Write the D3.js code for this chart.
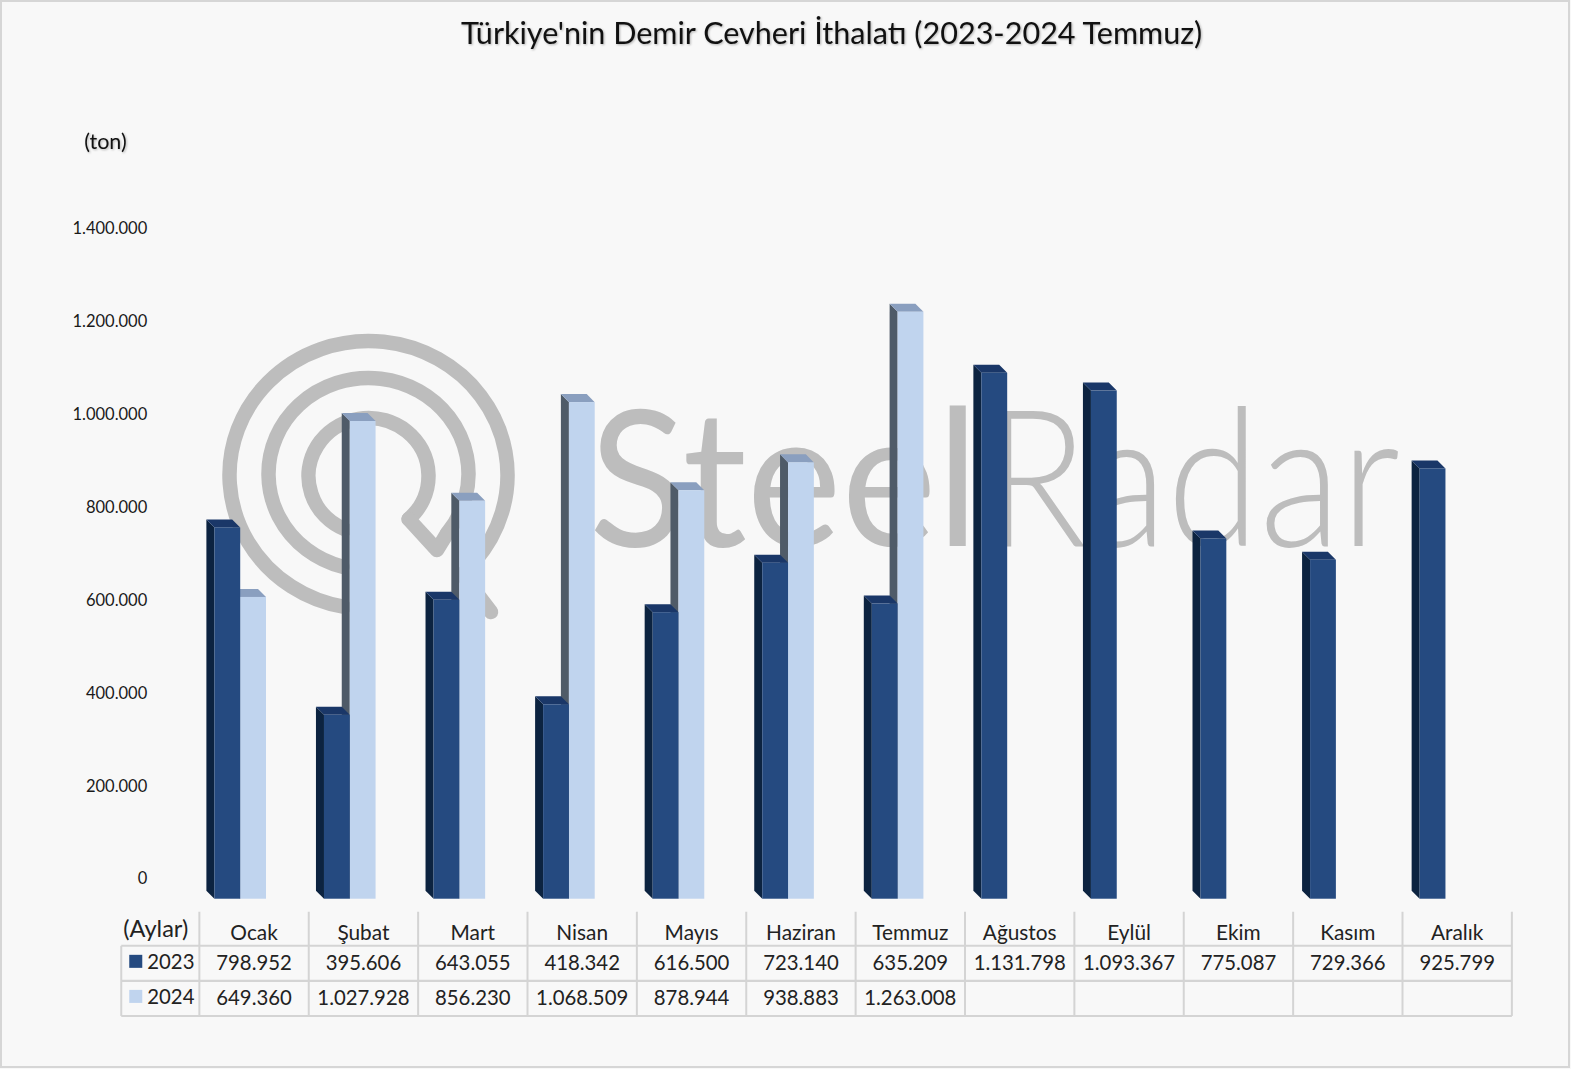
<!DOCTYPE html>
<html lang="tr">
<head>
<meta charset="utf-8">
<title>Türkiye'nin Demir Cevheri İthalatı</title>
<script src="https://cdn.jsdelivr.net/npm/d3@7/dist/d3.min.js"></script>
<style>
html,body{margin:0;padding:0;background:#f8f8f8;}
svg{display:block;font-family:Lato,Carlito,"Open Sans",sans-serif;}
</style>
</head>
<body>
<svg id="c" width="1571" height="1069"></svg>
<script>
const months = ["Ocak","Şubat","Mart","Nisan","Mayıs","Haziran","Temmuz","Ağustos","Eylül","Ekim","Kasım","Aralık"];
const values2023 = [798952,395606,643055,418342,616500,723140,635209,1131798,1093367,775087,729366,925799];
const values2024 = [649360,1027928,856230,1068509,878944,938883,1263008,null,null,null,null,null];
const years = ["2023","2024"];
const yTicks = [0,200000,400000,600000,800000,1000000,1200000,1400000];
const titleText = "Türkiye'nin Demir Cevheri İthalatı (2023-2024 Temmuz)";
const colors = {
  "2023": {front:"#254a80", side:"#0c2340", top:"#1a3768", key:"#254a80"},
  "2024": {front:"#c0d4ee", side:"#4f5b68", top:"#8a9fbf", key:"#c0d4ee"}
};
const seriesByYear = {"2023": values2023, "2024": values2024};

const W = 1571, H = 1069;
const svg = d3.select("#c");
const fmt = d3.formatLocale({decimal:",",thousands:".",grouping:[3],currency:["",""]}).format(",d");

// frame
svg.append("rect").attr("width",W).attr("height",H).attr("fill","#f8f8f8");
svg.append("rect").attr("x",1).attr("y",1).attr("width",1568).attr("height",1066)
  .attr("fill","none").attr("stroke","#d6d6d6").attr("stroke-width",2);

// watermark logo
const wm = svg.append("g").attr("fill","none").attr("stroke","#bdbdbd").attr("stroke-width",14.5)
  .attr("stroke-linecap","round").attr("stroke-linejoin","round");
const cx = 368.5;
const pt = (rx,ry,cy,a)=>[cx+rx*Math.cos(a*Math.PI/180), cy+ry*Math.sin(a*Math.PI/180)];
const arcCmd = (rx,ry,cy,a)=>{const p=pt(rx,ry,cy,a);return `A${rx} ${ry} 0 1 0 ${p[0]} ${p[1]}`;};
const s1=pt(60,58,476,48), s2=pt(100,96,474,38), s3=pt(139,134,475,40);
wm.append("path").attr("d",`M${s3}${arcCmd(139,134,475,100)}`);
wm.append("path").attr("d",`M${s1}${arcCmd(60,58,476,113)}`);
wm.append("path").attr("d",`M${s2}${arcCmd(100,96,474,105)}`);
wm.append("path").attr("d",`M${s1}L437 550L${s2}`);
wm.append("path").attr("d","M462 574L491 612");
svg.append("text").attr("x",589).attr("y",546).attr("font-size",191).attr("font-weight",400)
  .attr("fill","#bdbdbd")
  .attr("textLength",390).attr("lengthAdjust","spacingAndGlyphs").text("Steel");
svg.append("text").attr("x",985).attr("y",546).attr("font-size",191).attr("font-weight",300)
  .attr("fill","#bdbdbd").attr("textLength",415).attr("lengthAdjust","spacingAndGlyphs").text("Radar");

const root = svg.append("g").attr("transform",`scale(${1571/1568})`);

// scales
const xTable = d3.scaleBand().domain(months).range([199,1509]);
const xBars = d3.scaleBand().domain(months).range([199,1511.3]);
const y = d3.scaleLinear().domain([0,1400000]).range([897,247.6]);
const inner = d3.scaleBand().domain(years).range([15,66.5]);
const depth = 8;

// 3-D bars
const rows = months.map((m,i)=>({m, "2023":values2023[i], "2024":values2024[i]}));
const groups = root.append("g").selectAll("g").data(rows).join("g");
groups.each(function(d){
  const g = d3.select(this);
  ["2024","2023"].forEach(yr=>{
    const v = d[yr];
    if(v==null) return;
    const x0 = xBars(d.m)+inner(yr), w = inner.bandwidth(), t = y(v), b = y(0), c = colors[yr];
    const bar = g.append("g").attr("class","bar-"+yr);
    bar.append("polygon").attr("fill",c.side)
      .attr("points",[[x0,t],[x0-depth,t-depth],[x0-depth,b-depth],[x0,b]].join(" "));
    bar.append("polygon").attr("fill",c.top)
      .attr("points",[[x0,t],[x0+w,t],[x0+w-depth,t-depth],[x0-depth,t-depth]].join(" "));
    bar.append("rect").attr("x",x0).attr("y",t).attr("width",w).attr("height",b-t).attr("fill",c.front);
  });
});

// y axis: labels sit on the chart's back wall, above the front plane
const axis = root.append("g").attr("transform","translate(147,-20)")
  .call(d3.axisLeft(y).tickValues(yTicks).tickSize(0).tickPadding(0).tickFormat(fmt));
axis.select(".domain").remove();
axis.selectAll("text").attr("font-family","Lato,Carlito,sans-serif").attr("font-size",16.5).attr("fill","#1a1a1a");

// title, unit
const shadow = "drop-shadow(1px 1px 1px rgba(0,0,0,.28))";
root.append("text").attr("x",830).attr("y",44).attr("text-anchor","middle").attr("font-size",30.5)
  .attr("fill","#111").style("filter",shadow).text(titleText);
root.append("text").attr("x",84).attr("y",149).attr("font-size",21.5)
  .attr("fill","#111").style("filter",shadow).text("(ton)");

// data table
const table = root.append("g");
const lineCol = "#d4d4d4";
const rowY = [944,979,1014];
const edges = months.map(m=>xTable(m)).concat([xTable.range()[1]]);
table.selectAll("line.v").data(edges).join("line").attr("class","v")
  .attr("x1",d=>d).attr("x2",d=>d).attr("y1",910).attr("y2",1014)
  .attr("stroke",lineCol).attr("stroke-width",2);
table.selectAll("line.h").data(rowY).join("line").attr("class","h")
  .attr("x1",121).attr("x2",1509).attr("y1",d=>d).attr("y2",d=>d)
  .attr("stroke",lineCol).attr("stroke-width",2);
table.append("line").attr("x1",121).attr("x2",121).attr("y1",944).attr("y2",1014)
  .attr("stroke",lineCol).attr("stroke-width",2);

table.append("text").attr("x",123).attr("y",935).attr("font-size",23.5).attr("fill","#222").text("(Aylar)");
table.selectAll("text.m").data(months).join("text").attr("class","m")
  .attr("x",d=>xTable(d)+xTable.bandwidth()/2).attr("y",938).attr("text-anchor","middle")
  .attr("font-size",20.8).attr("fill","#222").text(d=>d);
years.forEach((yr,r)=>{
  const base = r===0?968:1003;
  table.append("rect").attr("x",129).attr("y",base-15).attr("width",13).attr("height",13).attr("fill",colors[yr].key);
  table.append("text").attr("x",147).attr("y",base-1).attr("font-size",20.3).attr("fill","#222").text(yr);
  table.selectAll("text.v"+yr).data(seriesByYear[yr].map((v,i)=>({v,m:months[i]})).filter(d=>d.v!=null))
    .join("text").attr("class","v"+yr)
    .attr("x",d=>xTable(d.m)+xTable.bandwidth()/2).attr("y",base).attr("text-anchor","middle")
    .attr("font-size",20.3).attr("fill","#222").text(d=>fmt(d.v));
});
</script>
</body>
</html>
